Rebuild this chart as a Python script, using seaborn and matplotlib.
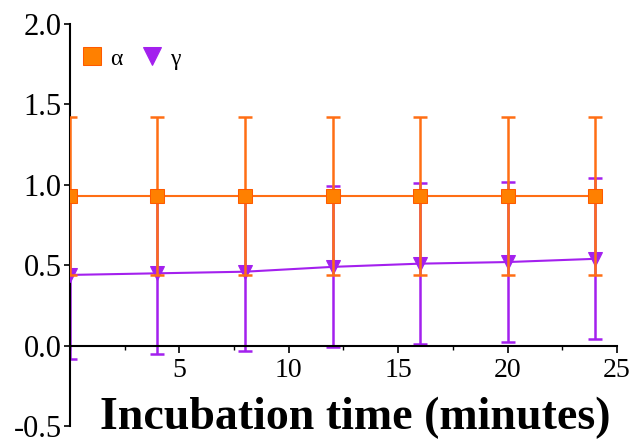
import numpy as np
import pandas as pd
import seaborn as sns
import matplotlib.pyplot as plt
from matplotlib.ticker import MultipleLocator

# values
time_min = [0, 4, 8, 12, 16, 20, 24]
alpha_mean = [0.93, 0.93, 0.93, 0.93, 0.93, 0.93, 0.93]
alpha_err = [0.49, 0.49, 0.49, 0.49, 0.49, 0.49, 0.49]
gamma_mean = [0.44, 0.45, 0.46, 0.49, 0.51, 0.52, 0.54]
gamma_err = [0.52, 0.50, 0.49, 0.50, 0.50, 0.50, 0.50]

orange = '#FF6E14'
purple = '#A320EE'

sns.set_style('ticks')
plt.rcParams['font.family'] = ['Liberation Serif', 'DejaVu Serif']
for key in ['text.color', 'axes.labelcolor', 'xtick.color', 'ytick.color',
            'axes.edgecolor']:
    plt.rcParams[key] = 'black'

df = pd.DataFrame({'time': time_min * 2,
                   'value': alpha_mean + gamma_mean,
                   'series': ['α'] * 7 + ['γ'] * 7})

fig = plt.figure(figsize=(6.36, 4.43), dpi=100)
ax = fig.add_axes([0.110, 0.038, 0.860, 0.908])

# gamma first so alpha sits on top
ax.errorbar(time_min, gamma_mean, yerr=gamma_err, fmt='none', ecolor=purple,
            elinewidth=1.8, capsize=5, capthick=1.8, zorder=2)
sns.lineplot(data=df[df.series == 'γ'], x='time', y='value', ax=ax,
             color=purple, marker='v', markersize=10, markeredgecolor=purple,
             linewidth=1.5, label='γ', zorder=3)
ax.errorbar(time_min, alpha_mean, yerr=alpha_err, fmt='none', ecolor=orange,
            elinewidth=1.8, capsize=5, capthick=1.8, zorder=4)
sns.lineplot(data=df[df.series == 'α'], x='time', y='value', ax=ax,
             color=orange, marker='s', markersize=9.5, markeredgecolor='#FF5A00',
             markerfacecolor='#FF8000', linewidth=1.5, label='α', zorder=5)

ax.set_xlim(0, 25)
ax.set_ylim(-0.5, 2.0)
ax.spines['bottom'].set_position(('data', 0))
ax.spines['top'].set_visible(False)
ax.spines['right'].set_visible(False)
ax.spines['left'].set_linewidth(1.5)
ax.spines['bottom'].set_linewidth(1.5)

ax.set_xticks([5, 10, 15, 20, 25])
ax.xaxis.set_minor_locator(MultipleLocator(2.5))
ax.set_yticks([-0.5, 0.0, 0.5, 1.0, 1.5, 2.0])
ax.set_yticklabels(['-0.5', '0.0', '0.5', '1.0', '1.5', '2.0'])
ax.tick_params(axis='x', which='major', labelsize=20, length=5, width=1.2, pad=4)
ax.tick_params(axis='x', which='minor', length=3, width=1.0)
ax.tick_params(axis='y', labelsize=22, length=4, width=1.2, pad=2)
ax.set_xlabel('')
ax.set_ylabel('')

handles, labels = ax.get_legend_handles_labels()
order = [labels.index('α'), labels.index('γ')]
leg = ax.legend([handles[i] for i in order], [labels[i] for i in order],
                loc='upper left', bbox_to_anchor=(0.0, 0.975), ncol=2,
                frameon=False, fontsize=17, handlelength=0.7, markerscale=1.3,
                handletextpad=0.4, columnspacing=0.9, borderaxespad=0.2)
for h in leg.legend_handles:
    h.set_linestyle('none')

fig.text(0.558, 0.032, 'Incubation time (minutes)', ha='center',
         va='baseline', fontsize=33, fontweight='bold')

fig.savefig('out.png', dpi=100)
